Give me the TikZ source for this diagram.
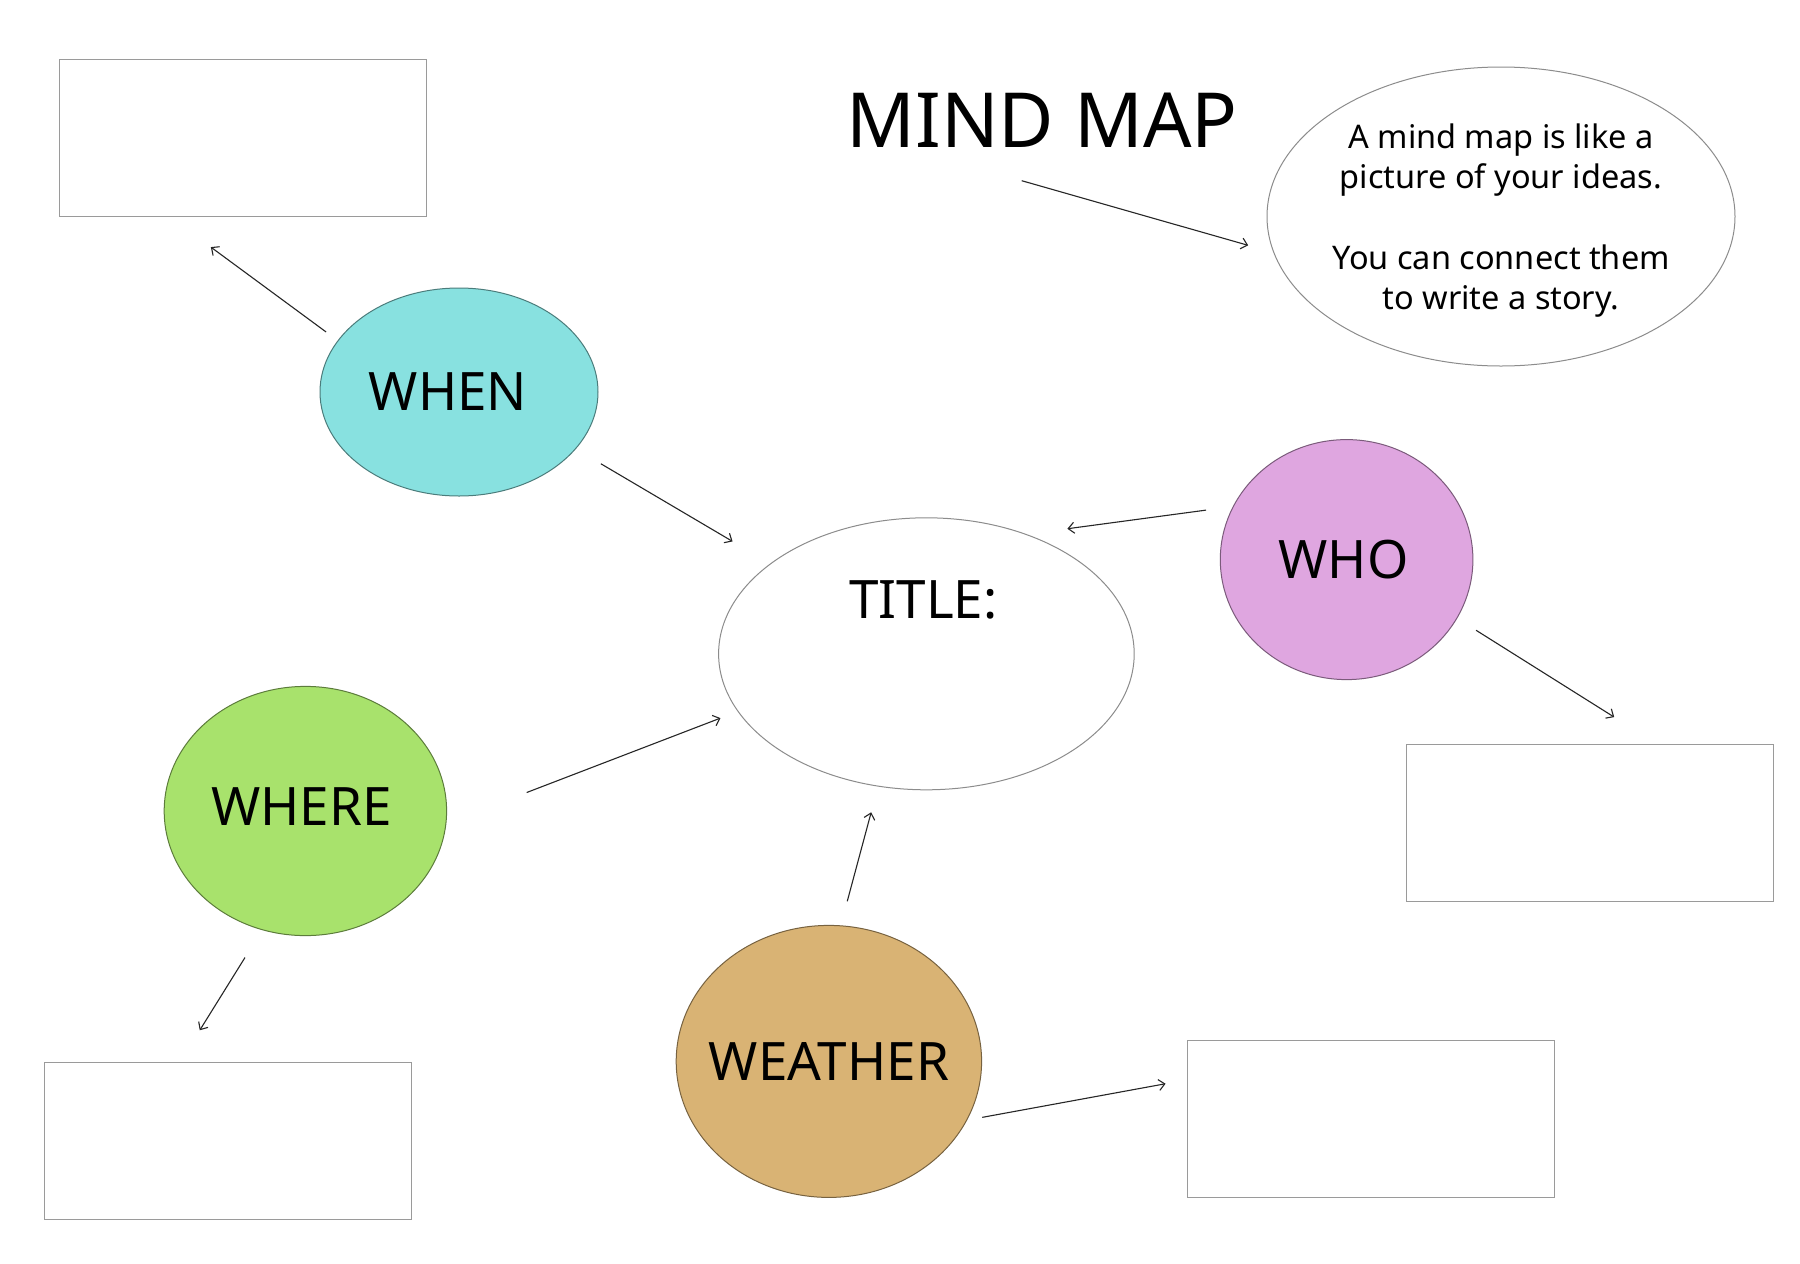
\documentclass[tikz,border=0pt]{standalone}
\usepackage{fontspec}
\setmainfont{Noto Sans}
\usetikzlibrary{arrows.meta,shapes.geometric}
\definecolor{whencol}{HTML}{88E1E0}
\definecolor{whocol}{HTML}{DFA6E0}
\definecolor{wherecol}{HTML}{A8E26C}
\definecolor{weathercol}{HTML}{D9B374}
\definecolor{rimgray}{HTML}{8C8C8C}
\definecolor{boxgray}{HTML}{9A9A9A}

\begin{document}
\begin{tikzpicture}[x=1pt,y=-1pt,line width=1pt,
  blob/.style={ellipse,draw=#1!55!black,fill=#1,inner sep=0pt},
  bubble/.style={ellipse,draw=rimgray,fill=white,inner sep=0pt},
  card/.style={draw=boxgray,minimum width=367pt,minimum height=157pt,inner sep=0pt},
  every label/.style={inner sep=0pt,font=\fontsize{53}{60}\selectfont},
  arr/.style={-{Straight Barb[length=6pt,width=11pt]},line width=1.1pt,draw=black!85}]
\fill[white] (0,0) rectangle (1800,1264);
\useasboundingbox (0,0) rectangle (1800,1264);
% empty boxes
\node[card] (tlbox) at (243.4,137.8) {};
\node[card] (whobox) at (1589.9,822.5) {};
\node[card] (wherebox) at (227.8,1140.5) {};
\node[card] (weatherbox) at (1370.5,1119) {};
% heading and note
\node[inner sep=0pt,font=\fontsize{76}{90}\selectfont] (mindmap) at (1042,120.3) {MIND MAP};
\node[bubble,minimum width=468pt,minimum height=299pt,
  label={[align=center,yshift=-4pt,font=\fontsize{32.5}{39.5}\selectfont]center:{A mind map is like a\\picture of your ideas.\\[42pt]You can connect them\\to write a story.}}]
  (info) at (1501,216.5) {};
\coordinate (mmtail) at (1021.7,180.7);
% centre
\node[bubble,minimum width=415.6pt,minimum height=272pt,
  label={[xshift=-3pt,yshift=54pt]center:TITLE:}] (title) at (926.4,653.8) {};
% question bubbles
\node[blob=whencol,minimum width=278pt,minimum height=208pt,
  label={[xshift=-11pt]center:WHEN}] (when) at (459,392) {};
\node[blob=whocol,minimum width=252.6pt,minimum height=240pt,
  label={[xshift=-3pt]center:WHO}] (who) at (1346.6,559.6) {};
\node[blob=wherecol,minimum width=282.4pt,minimum height=249.2pt,
  label={[xshift=-4pt,yshift=4pt]center:WHERE}] (where) at (305.4,811) {};
\node[blob=weathercol,minimum width=305.4pt,minimum height=272pt,
  label=center:WEATHER] (weather) at (828.9,1061.4) {};
% arrows
\draw[arr,shorten <=14.4pt,shorten >=51.1pt] (when.157.9) -- (tlbox.-133.2);
\draw[arr,shorten <=29pt,shorten >=43.6pt] (when.-26.9) -- (title.150.6);
\draw[arr,shorten >=26.2pt] (mmtail) -- (info.189.4);
\draw[arr,shorten <=27pt,shorten >=41pt] (who.155.6) -- (title.50.8);
\draw[arr,shorten <=22.2pt,shorten >=49.6pt] (who.-28.5) -- (whobox.50.8);
\draw[arr,shorten <=86pt,shorten >=18.4pt] (where.-5.7) -- (title.-163.6);
\draw[arr,shorten <=24.9pt,shorten >=26.6pt] (weather.85.6) -- (title.-110.2);
\draw[arr,shorten <=32.3pt,shorten >=36.8pt] (where.-110.6) -- (wherebox.121.9);
\draw[arr,shorten <=15.3pt,shorten >=21.3pt] (weather.-23.3) -- (weatherbox.168.7);
\end{tikzpicture}
\end{document}
